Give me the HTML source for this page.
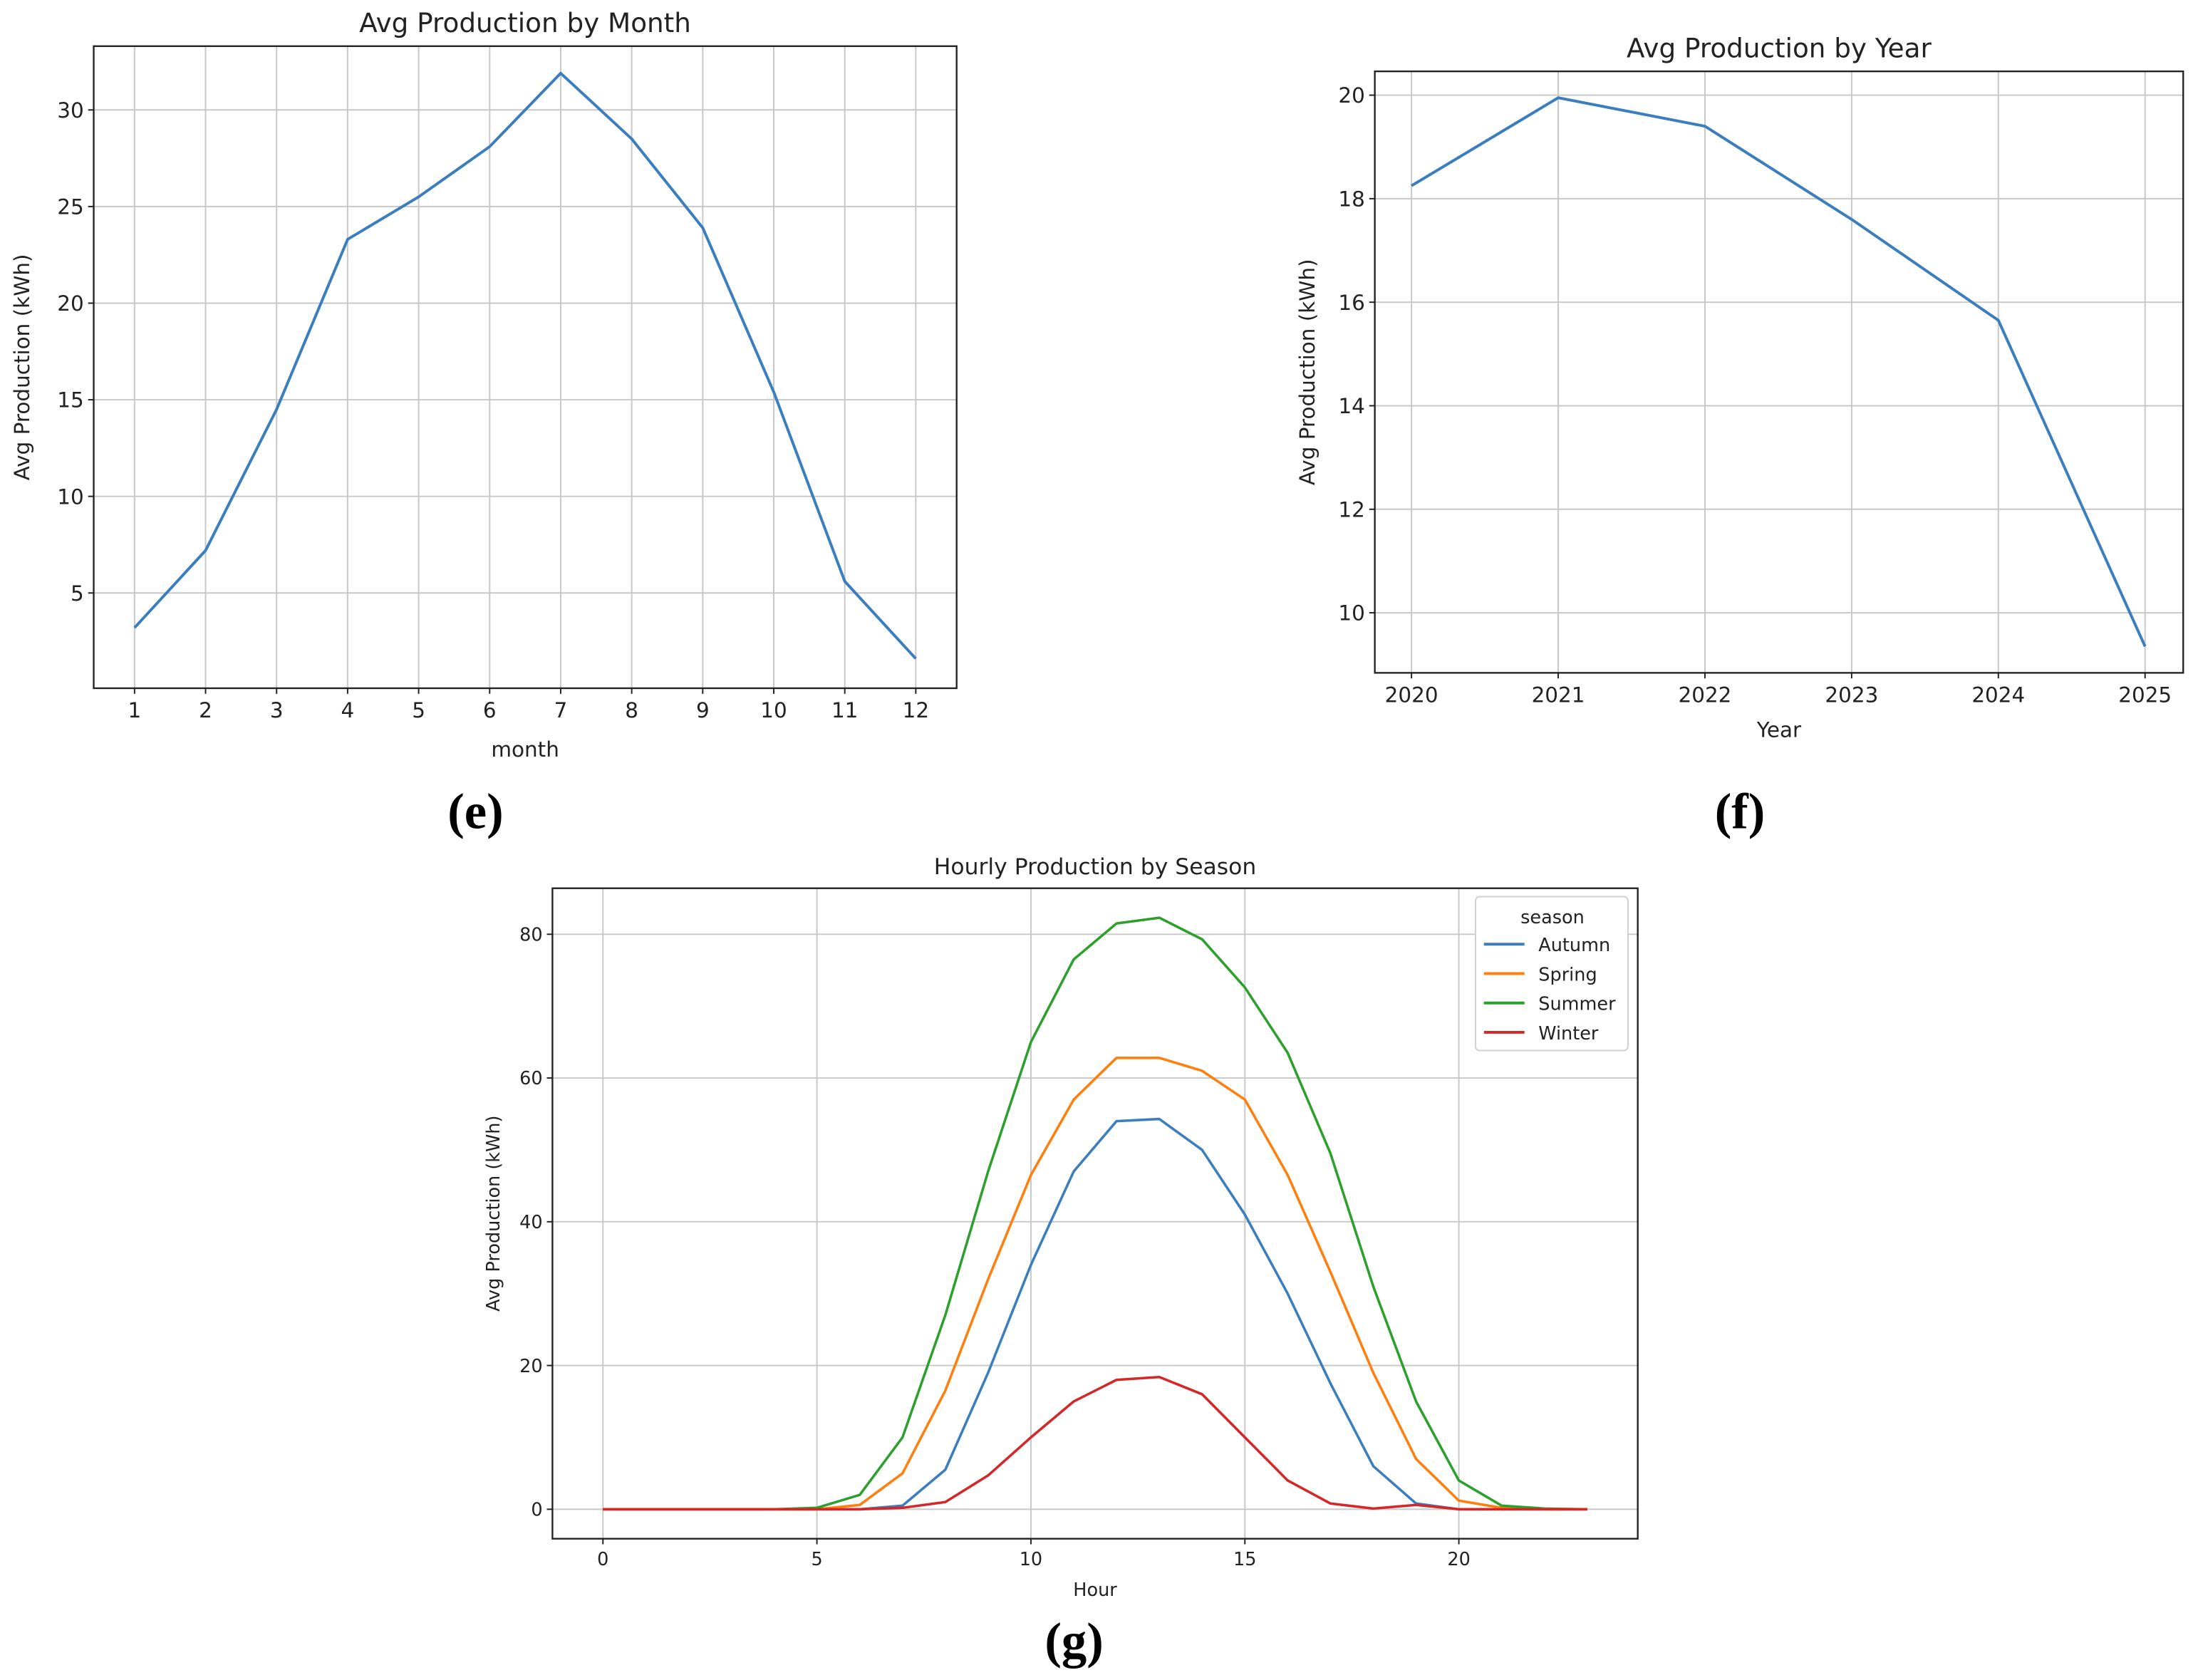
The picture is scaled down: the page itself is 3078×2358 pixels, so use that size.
<!DOCTYPE html>
<html><head><meta charset="utf-8"><style>
html,body{margin:0;padding:0;background:#fff;}
svg{display:block;font-family:"DejaVu Sans","Liberation Sans",sans-serif;}
</style></head><body>
<svg id="root" width="3078" height="2358" viewBox="0 0 1568 1201" preserveAspectRatio="none" xmlns="http://www.w3.org/2000/svg">
<rect width="1568" height="1201" fill="#fff"/>
<g id="ge"></g>
<g id="gf"></g>
<g id="gg"></g>
</svg>
<script>
const months=[1,2,3,4,5,6,7,8,9,10,11,12];
const monthValues=[3.2,7.2,14.5,23.3,25.5,28.1,31.9,28.5,23.9,15.4,5.6,1.6];
const monthYTicks=[5,10,15,20,25,30];
const years=[2020,2021,2022,2023,2024,2025];
const yearValues=[18.25,19.95,19.4,17.6,15.65,9.35];
const yearYTicks=[10,12,14,16,18,20];
const hours=[0,1,2,3,4,5,6,7,8,9,10,11,12,13,14,15,16,17,18,19,20,21,22,23];
const autumn=[0,0,0,0,0,0,0,0.5,5.5,19,34,47,54,54.3,50,41,30,17.5,6,0.8,0,0,0,0];
const spring=[0,0,0,0,0,0,0.6,5,16.5,32,46.5,57,62.8,62.8,61,57,46.5,33,19,7,1.2,0.2,0,0];
const summer=[0,0,0,0,0,0.2,2,10,27,47,65,76.5,81.5,82.3,79.3,72.6,63.5,49.5,31,15,4,0.5,0.1,0];
const winter=[0,0,0,0,0,0,0,0.2,1,4.7,10,15,18,18.4,16,10,4,0.8,0.1,0.6,0,0,0,0];
const hourXTicks=[0,5,10,15,20];
const hourYTicks=[0,20,40,60,80];
const seasonNames=['Autumn','Spring','Summer','Winter'];
const seasonColors=['#3a7ebf','#ff7f0e','#2ca02c','#d62728'];

const NS='http://www.w3.org/2000/svg';
function mk(parent,tag,attrs,text){const e=document.createElementNS(NS,tag);for(const k in attrs)e.setAttribute(k,attrs[k]);if(text!==undefined)e.textContent=text;parent.appendChild(e);return e;}

function chart(g,o){
  const sx=v=>o.L+(v-o.x0)/(o.x1-o.x0)*(o.R-o.L);
  const sy=v=>o.B-(v-o.y0)/(o.y1-o.y0)*(o.B-o.T);
  o.xt.forEach((t,i)=>{const x=sx(t);
    const l=mk(g,'line',{x1:x,x2:x,y1:o.T,y2:o.B,stroke:'#c8c8c8','stroke-width':1});
    
    mk(g,'line',{x1:x,x2:x,y1:o.B,y2:o.B+4,stroke:'#222','stroke-width':1});
    const tx=mk(g,'text',{x:x,y:o.B+o.fs+6,'font-size':o.fs,'text-anchor':'middle',fill:'#222'},String(t));
    });
  o.yt.forEach(t=>{const y=sy(t);
    const l=mk(g,'line',{x1:o.L,x2:o.R,y1:y,y2:y,stroke:'#c8c8c8','stroke-width':1});
    
    mk(g,'line',{x1:o.L-4,x2:o.L,y1:y,y2:y,stroke:'#222','stroke-width':1});
    const tx=mk(g,'text',{x:o.L-7,y:y+o.fs*0.36,'font-size':o.fs,'text-anchor':'end',fill:'#222'},String(t));
    });
  o.series.forEach((s,k)=>{
    const p=mk(g,'polyline',{points:s.x.map((v,i)=>sx(v)+','+sy(s.y[i])).join(' '),fill:'none',stroke:s.c,'stroke-width':o.lw,'stroke-linejoin':'round'});
    });
  const fr=mk(g,'rect',{x:o.L,y:o.T,width:o.R-o.L,height:o.B-o.T,fill:'none',stroke:'#222','stroke-width':1.2});
  
  const ti=mk(g,'text',{x:(o.L+o.R)/2,y:o.T-10,'font-size':o.tfs,'text-anchor':'middle',fill:'#222'},o.title);
  
  const xl=mk(g,'text',{x:(o.L+o.R)/2,y:o.xly,'font-size':o.fs,'text-anchor':'middle',fill:'#222'},o.xlabel);
  
  const cy=(o.T+o.B)/2;
  const yl=mk(g,'text',{x:o.ylx,y:cy,'font-size':o.fs,'text-anchor':'middle',fill:'#222',transform:'rotate(-90 '+o.ylx+' '+cy+')'},'Avg Production (kWh)');
  
  const pl=mk(g,'text',{x:o.px,y:o.py,'font-size':36,'font-weight':'bold','text-anchor':'middle',fill:'#000','font-family':'"Liberation Serif",serif'},o.panel);
  
  return {sx,sy};
}

chart(document.getElementById('ge'),{L:67,R:684,T:33,B:492,x0:0.425,x1:12.575,y0:0.07,y1:33.3,
  xt:months,yt:monthYTicks,fs:15,tfs:19,lw:2,title:'Avg Production by Month',xlabel:'month',xly:541,ylx:21,panel:'(e)',px:340,py:592,
  series:[{n:'month',x:months,y:monthValues,c:'#3a7ebf'}]});
chart(document.getElementById('gf'),{L:983,R:1561,T:51,B:481,x0:2019.75,x1:2025.26,y0:8.84,y1:20.46,
  xt:years,yt:yearYTicks,fs:15,tfs:19,lw:2,title:'Avg Production by Year',xlabel:'Year',xly:527,ylx:940,panel:'(f)',px:1244,py:592,
  series:[{n:'year',x:years,y:yearValues,c:'#3a7ebf'}]});
const seasonData=[autumn,spring,summer,winter];
chart(document.getElementById('gg'),{L:395,R:1171,T:635,B:1100,x0:-1.18,x1:24.18,y0:-4.1,y1:86.4,
  xt:hourXTicks,yt:hourYTicks,fs:13,tfs:16,lw:1.8,title:'Hourly Production by Season',xlabel:'Hour',xly:1141,ylx:357,panel:'(g)',px:768,py:1185,
  series:seasonNames.map((n,i)=>({n:n.toLowerCase(),x:hours,y:seasonData[i],c:seasonColors[i]}))});
// legend
const gg=document.getElementById('gg');
const lg=mk(gg,'g',{});


mk(lg,'rect',{x:1055,y:641,width:109,height:110,fill:'#fff',stroke:'#d0d0d0','stroke-width':1,rx:3});
mk(lg,'text',{x:1110,y:660,'font-size':13,'text-anchor':'middle',fill:'#222'},'season');
seasonNames.forEach((n,i)=>{const y=675+i*21;
  const e=mk(lg,'g',{});
  
  
  mk(e,'line',{x1:1061,x2:1090,y1:y,y2:y,stroke:seasonColors[i],'stroke-width':2});
  mk(e,'text',{x:1100,y:y+5,'font-size':13,fill:'#222'},n);});
</script>
</body></html>
